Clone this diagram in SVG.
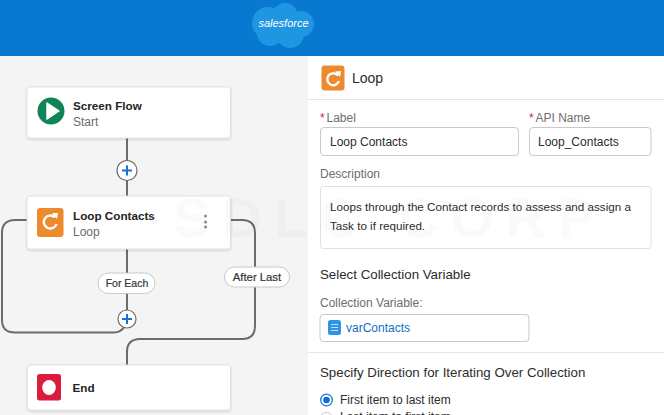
<svg xmlns="http://www.w3.org/2000/svg" width="664" height="415" viewBox="0 0 664 415">
<defs>
<filter id="sh" x="-5%" y="-15%" width="110%" height="130%"><feDropShadow dx="0" dy="1" stdDeviation="1" flood-color="#000" flood-opacity="0.16"/></filter>
</defs>
<style>
text{font-family:"Liberation Sans",Arial,sans-serif}
.card{fill:#fff;stroke:#e2e2e2;stroke-width:1;filter:url(#sh)}
.title{font-size:11.700px;font-weight:700;fill:#242424}
.sub{font-size:12px;fill:#6b6b6b}
.conn{fill:none;stroke:#6b6b6b;stroke-width:2}
.pill{fill:#fff;stroke:#c9c9c9;stroke-width:1}
.pt{font-size:10.500px;fill:#333;text-anchor:middle;stroke:#333;stroke-width:0.2}
.plusc{fill:#fff;stroke:#6b6b6b;stroke-width:1.2}
.plus{stroke:#1b6fd6;stroke-width:2;fill:none}
.lab{font-size:12px;fill:#6e6e6e}
.req{font-size:12px;fill:#d0213a}
.inp{fill:#fff;stroke:#c9c9c9;stroke-width:1}
.val{font-size:12px;fill:#2c2c2c}
.desc{font-size:11.650px;fill:#2c2c2c}
.h{font-size:13.300px;fill:#2c2c2c}
.ic{fill:none;stroke:#fff;stroke-width:2.4}
</style>
<rect width="664" height="415" fill="#f4f4f4"/>
<g id="header">
<rect width="664" height="56" fill="#0878d1"/>
<g fill="#1f96e2"><circle cx="268" cy="23" r="16"/><circle cx="285" cy="16" r="13"/><circle cx="301" cy="24" r="13"/><circle cx="290" cy="34" r="14"/><circle cx="270" cy="33" r="13"/></g>
<text x="283.500" y="27" font-size="11" font-style="italic" fill="#fff" text-anchor="middle">salesforce</text>
</g>
<rect id="panel" x="308" y="56" width="356" height="359" fill="#fff"/>
<g id="connectors">
<path class="conn" d="M127 138V196"/>
<path class="conn" d="M127 249V319"/>
<path class="conn" d="M27 220H15Q2 220 2 233V320Q2 332.500 15 332.500H114Q121 332.500 125 326"/>
<path class="conn" d="M231 220H242Q255 220 255 233V326Q255 339 242 339H140Q127 339 127 352V365"/>
</g>
<g id="node-start">
<rect class="card" x="27" y="87" width="203.500" height="51" rx="3"/>
<circle cx="51" cy="111" r="13.500" fill="#0f8457"/>
<path d="M47 103L59 111L47 119Z" fill="#fff" stroke="#fff" stroke-width="1.500" stroke-linejoin="round"/>
<text class="title" x="73" y="110">Screen Flow</text>
<text class="sub" x="73" y="126">Start</text>
</g>
<g id="node-plus-1">
<circle class="plusc" cx="127" cy="170.500" r="10"/>
<path class="plus" d="M122 170.500H132M127 165.500V175.500"/>
</g>
<g id="node-loop">
<rect class="card" x="27" y="196" width="203.500" height="53" rx="3"/>
<rect x="37" y="208" width="26.500" height="29" rx="3" fill="#ec8a2d"/>
<path class="ic" d="M55 217.500A6.500 6.500 0 1 0 56.500 224"/><path d="M52 213L58 213L57 219Z" fill="#fff"/>
<text class="title" x="73" y="220">Loop Contacts</text>
<text class="sub" x="73" y="236">Loop</text>
<g fill="#8a8a8a"><circle cx="205.500" cy="216" r="1.500"/><circle cx="205.500" cy="222" r="1.500"/><circle cx="205.500" cy="227" r="1.500"/></g>
</g>
<g id="label-for-each">
<rect class="pill" x="98" y="273" width="57" height="20.500" rx="10.250"/>
<text class="pt" x="127" y="287">For Each</text>
</g>
<g id="label-after-last">
<rect class="pill" x="224.500" y="267" width="65" height="20" rx="10"/>
<text class="pt" x="257" y="281" style="font-size:11.300px">After Last</text>
</g>
<g id="node-plus-2">
<circle class="plusc" cx="127" cy="319" r="9"/>
<path class="plus" d="M122 319H132M127 314V324"/>
</g>
<g id="node-end">
<rect class="card" x="27.500" y="365" width="203" height="45" rx="3"/>
<rect x="37" y="374" width="24" height="26.500" rx="2.500" fill="#dc1c3f"/>
<ellipse cx="49" cy="387.500" rx="6.800" ry="7.500" fill="#fff"/>
<text class="title" x="72.500" y="392">End</text>
</g>
<g id="form">
<path d="M308 99.500H664" stroke="#e6e6e6"/>
<rect x="321.500" y="65.500" width="23" height="25" rx="3" fill="#ec8a2d"/>
<path class="ic" d="M338 75.500A6 6 0 1 0 339 81"/><path d="M335 71.500L341 71L340 77Z" fill="#fff"/>
<text x="352" y="83" font-size="14" fill="#2c2c2c">Loop</text>
<text class="req" x="320" y="122">*</text><text class="lab" x="326.500" y="122">Label</text>
<text class="req" x="529" y="122">*</text><text class="lab" x="535.500" y="122">API Name</text>
<rect class="inp" x="320.500" y="127.500" width="198" height="28" rx="3.500"/>
<text class="val" x="330" y="146">Loop Contacts</text>
<rect class="inp" x="529.500" y="127.500" width="121.500" height="28" rx="3.500"/>
<text class="val" x="538" y="146">Loop_Contacts</text>
<text class="lab" x="320" y="178">Description</text>
<rect x="320.500" y="186.500" width="330.500" height="62" rx="3" fill="#fff" stroke="#e0e0e0"/>
<text class="desc" x="330" y="211">Loops through the Contact records to assess and assign a</text>
<text class="desc" x="330" y="230">Task to if required.</text>
<text class="h" x="320" y="279">Select Collection Variable</text>
<text class="lab" x="320" y="307">Collection Variable:</text>
<rect class="inp" x="320" y="314.500" width="209" height="27" rx="3.500"/>
<rect x="328" y="320" width="13" height="15" rx="2.500" fill="#2f95e3"/>
<path d="M331 324.500H338M331 327.500H338M331 330.500H338" stroke="#bfe0f8" stroke-width="1"/>
<text x="346" y="332" font-size="12" fill="#0f6fc6">varContacts</text>
<path d="M308 352.500H664" stroke="#e6e6e6"/>
<text class="h" x="320" y="377">Specify Direction for Iterating Over Collection</text>
<circle cx="326.500" cy="400" r="5.800" fill="#fff" stroke="#1b78d6" stroke-width="1.300"/>
<circle cx="326.500" cy="400" r="3.300" fill="#0f6fd0"/>
<text class="val" x="340" y="404">First item to last item</text>
<circle cx="326.500" cy="418" r="5.800" fill="#fff" stroke="#c9c9c9"/>
<text class="val" x="340" y="421">Last item to first item</text>
</g>
<text id="watermark" x="173" y="237" font-size="56" font-weight="700" fill="#000" fill-opacity="0.018" letter-spacing="11.500">SDLC CORP</text>
</svg>
